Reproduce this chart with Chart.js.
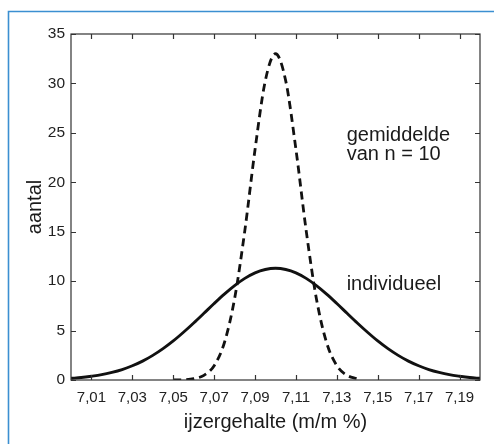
<!DOCTYPE html>
<html>
<head>
<meta charset="utf-8">
<script src="https://cdn.jsdelivr.net/npm/chart.js@4"></script>
<style>
  body { margin: 0; background: #fff; }
  #wrap { width: 494px; height: 444px; }
</style>
</head>
<body>
<div id="wrap"><canvas id="myChart" width="494" height="444"></canvas></div>
<script>
// ijzergehalte (m/m %) and aantal
let indivX = [7.00, 7.005, 7.01, 7.015, 7.02, 7.025, 7.03, 7.035, 7.04, 7.045, 7.05, 7.055, 7.06, 7.065, 7.07, 7.075, 7.08, 7.085, 7.09, 7.095,
              7.10, 7.105, 7.11, 7.115, 7.12, 7.125, 7.13, 7.135, 7.14, 7.145, 7.15, 7.155, 7.16, 7.165, 7.17, 7.175, 7.18, 7.185, 7.19, 7.195, 7.20];
let indivY = [0.17, 0.25, 0.38, 0.54, 0.77, 1.06, 1.44, 1.91, 2.49, 3.17, 3.95, 4.83, 5.77, 6.75, 7.74, 8.69, 9.55, 10.28, 10.84, 11.18,
              11.3, 11.18, 10.84, 10.28, 9.55, 8.69, 7.74, 6.75, 5.77, 4.83, 3.95, 3.17, 2.49, 1.91, 1.44, 1.06, 0.77, 0.54, 0.38, 0.25, 0.17];

let meanX = [7.05, 7.055, 7.06, 7.065, 7.07, 7.075, 7.08, 7.085, 7.09, 7.095, 7.10, 7.105, 7.11, 7.115, 7.12, 7.125, 7.13, 7.135, 7.14];
let meanY = [0.0, 0.03, 0.13, 0.47, 1.45, 3.77, 8.23, 15.11, 23.32, 30.26, 33.0, 30.26, 23.32, 15.11, 8.23, 3.77, 1.45, 0.47, 0.13];

let xTicks = [7.01, 7.03, 7.05, 7.07, 7.09, 7.11, 7.13, 7.15, 7.17, 7.19];
let yTicks = [0, 5, 10, 15, 20, 25, 30, 35];

// text labels inside the plot, placed in data units
let notes = [
    { text: 'gemiddelde', x: 7.1348, y: 24.7 },
    { text: 'van n = 10', x: 7.1348, y: 22.8 },
    { text: 'individueel', x: 7.1348, y: 9.7 }
];

const FONT = '"Liberation Sans", Arial, Helvetica, sans-serif';

let toPoints = (xs, ys) => xs.map((x, i) => ({ x: x, y: ys[i] }));

let framePlugin = {
    id: 'frame',
    beforeDraw: (chart) => {
        let c = chart.ctx;
        c.save();
        c.strokeStyle = '#3b8fd1';
        c.lineWidth = 1.6;
        c.beginPath();
        c.moveTo(8.5, 444);
        c.lineTo(8.5, 11.5);
        c.lineTo(494, 11.5);
        c.stroke();
        c.restore();
    },
    afterDatasetsDraw: (chart) => {
        let c = chart.ctx;
        let a = chart.chartArea;
        let xs = chart.scales.x;
        let ys = chart.scales.y;
        c.save();
        c.strokeStyle = '#333';
        c.lineWidth = 1.2;
        c.strokeRect(a.left, a.top, a.right - a.left, a.bottom - a.top);
        c.beginPath();
        xTicks.forEach(v => {
            let px = Math.round(xs.getPixelForValue(v)) + 0.5;
            c.moveTo(px, a.bottom); c.lineTo(px, a.bottom - 5);
            c.moveTo(px, a.top); c.lineTo(px, a.top + 5);
        });
        yTicks.forEach(v => {
            let py = Math.round(ys.getPixelForValue(v)) + 0.5;
            c.moveTo(a.left, py); c.lineTo(a.left + 5, py);
            c.moveTo(a.right, py); c.lineTo(a.right - 5, py);
        });
        c.stroke();

        c.fillStyle = '#1a1a1a';
        c.font = '20px ' + FONT;
        c.textAlign = 'left';
        c.textBaseline = 'middle';
        notes.forEach(n => {
            c.fillText(n.text, xs.getPixelForValue(n.x), ys.getPixelForValue(n.y));
        });
        c.restore();
    }
};

let ctx = document.getElementById('myChart').getContext('2d');
let myChart = new Chart(ctx, {
    type: 'line',
    data: {
        datasets: [{
            label: 'individueel',
            data: toPoints(indivX, indivY),
            borderColor: '#111',
            borderWidth: 2.9,
            pointRadius: 0,
            cubicInterpolationMode: 'monotone',
            fill: false
        }, {
            label: 'gemiddelde van n = 10',
            data: toPoints(meanX, meanY),
            borderColor: '#111',
            borderWidth: 2.8,
            borderDash: [8, 5],
            pointRadius: 0,
            cubicInterpolationMode: 'monotone',
            fill: false
        }]
    },
    options: {
        responsive: false,
        animation: false,
        layout: { padding: { left: 0, top: 34, right: 14, bottom: 0 } },
        plugins: {
            legend: { display: false },
            tooltip: { enabled: false }
        },
        scales: {
            x: {
                type: 'linear',
                min: 7.00,
                max: 7.20,
                afterBuildTicks: (s) => { s.ticks = xTicks.map(v => ({ value: v })); },
                afterFit: (s) => { s.height = 64; },
                grid: { display: false, drawTicks: false },
                border: { display: false },
                ticks: {
                    padding: 9,
                    maxRotation: 0,
                    autoSkip: false,
                    color: '#222',
                    font: { family: FONT, size: 15 },
                    callback: (v) => v.toFixed(2).replace('.', ',')
                },
                title: {
                    display: true,
                    text: 'ijzergehalte (m/m %)',
                    color: '#1a1a1a',
                    font: { family: FONT, size: 20 },
                    padding: { top: 0, bottom: 10 }
                }
            },
            y: {
                min: 0,
                max: 35,
                afterBuildTicks: (s) => { s.ticks = yTicks.map(v => ({ value: v })); },
                afterFit: (s) => { s.width = 71; },
                grid: { display: false, drawTicks: false },
                border: { display: false },
                ticks: {
                    padding: 6,
                    color: '#222',
                    font: { family: FONT, size: 15.5 }
                },
                title: {
                    display: true,
                    text: 'aantal',
                    color: '#1a1a1a',
                    font: { family: FONT, size: 20 },
                    padding: { top: 23, bottom: 0 }
                }
            }
        }
    },
    plugins: [framePlugin]
});
</script>
</body>
</html>
